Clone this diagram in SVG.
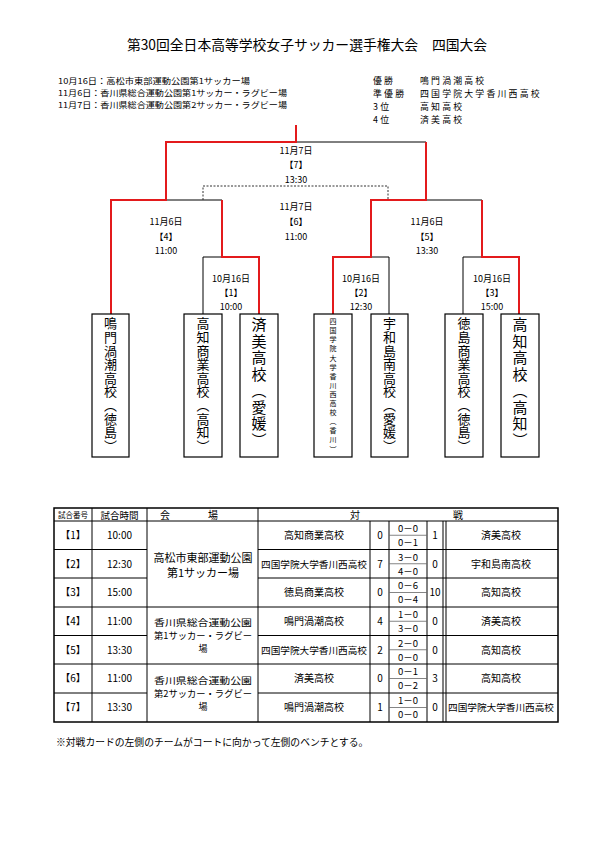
<svg xmlns="http://www.w3.org/2000/svg" width="595" height="841" viewBox="0 0 595 841">
<style>
text{font-family:"Noto Sans CJK JP","Noto Sans",sans-serif;fill:#000}
.t9{font-size:9px;text-anchor:middle}
.hd{font-size:8.2px}
.rt{font-size:8.9px;letter-spacing:2.2px}
.bk{stroke:#000;stroke-width:1;fill:none}
.rd{stroke:#e31a1c;stroke-width:2;fill:none}
.ds{stroke:#333;stroke-width:1;fill:none;stroke-dasharray:2 1.5}
.box{fill:#fff;stroke:#000;stroke-width:1.2}
.v{writing-mode:vertical-rl;text-orientation:upright}
.v13{font-size:13px;letter-spacing:0.6px}
.v15{font-size:15px;letter-spacing:1.5px}
.v7{font-size:7px;letter-spacing:2.1px}
.tc{font-size:10px;text-anchor:middle}
.ts{font-size:9.5px;text-anchor:middle}
.vn{font-size:9px;text-anchor:middle}
.tl{stroke:#000;stroke-width:1;fill:none}
.tg{stroke:#666;stroke-width:0.8;fill:none}
</style>
<rect width="595" height="841" fill="#fff"/>
<g id="header">
<text x="307" y="50" style="font-size:13.8px;text-anchor:middle">第30回全日本高等学校女子サッカー選手権大会　四国大会</text>
<text class="hd" x="58" y="84" textLength="192" lengthAdjust="spacingAndGlyphs">10月16日：高松市東部運動公園第1サッカー場</text>
<text class="hd" x="58" y="96" textLength="229" lengthAdjust="spacingAndGlyphs">11月6日：香川県総合運動公園第1サッカー・ラグビー場</text>
<text class="hd" x="58" y="108" textLength="229" lengthAdjust="spacingAndGlyphs">11月7日：香川県総合運動公園第2サッカー・ラグビー場</text>
<text class="rt" x="373" y="84">優勝</text><text class="rt" x="420" y="84">鳴門渦潮高校</text>
<text class="rt" x="373" y="97">準優勝</text><text class="rt" x="420" y="97">四国学院大学香川西高校</text>
<text class="rt" x="373" y="110">3位</text><text class="rt" x="420" y="110">高知高校</text>
<text class="rt" x="373" y="123">4位</text><text class="rt" x="420" y="123">済美高校</text>
</g>
<g id="connectors">
<path class="bk" d="M296 142H426 M166 200H222 M426 200H482 M203 257H222 M203 257V314 M371 257H389V314 M463 257H482 M463 257V314"/>
<path class="ds" d="M203 200V186H388V200"/>
<path class="rd" d="M296 125V142H166V200H111V314"/>
<path class="rd" d="M222 200V257H259V314"/>
<path class="rd" d="M426 142V200H371V257H333V314"/>
<path class="rd" d="M482 200V257H519V314"/>
</g>
<g id="match-labels">
<text class="t9" x="296" y="154">11月7日</text><text class="t9" x="296" y="168">【7】</text><text class="t9" x="296" y="183">13:30</text>
<text class="t9" x="296" y="210">11月7日</text><text class="t9" x="296" y="225">【6】</text><text class="t9" x="296" y="240">11:00</text>
<text class="t9" x="166" y="225">11月6日</text><text class="t9" x="166" y="240">【4】</text><text class="t9" x="166" y="254">11:00</text>
<text class="t9" x="427" y="225">11月6日</text><text class="t9" x="427" y="240">【5】</text><text class="t9" x="427" y="254">13:30</text>
<text class="t9" x="231" y="282">10月16日</text><text class="t9" x="231" y="296">【1】</text><text class="t9" x="231" y="310">10:00</text>
<text class="t9" x="361" y="282">10月16日</text><text class="t9" x="361" y="296">【2】</text><text class="t9" x="361" y="310">12:30</text>
<text class="t9" x="492" y="282">10月16日</text><text class="t9" x="492" y="296">【3】</text><text class="t9" x="492" y="310">15:00</text>
</g>
<g id="team-naruto"><rect class="box" x="92" y="314" width="37" height="143"/><text class="v v13" x="110.5" y="317">鳴門渦潮高校︵徳島︶</text></g>
<g id="team-kochisho"><rect class="box" x="184" y="314" width="38" height="143"/><text class="v v13" x="203" y="317">高知商業高校︵高知︶</text></g>
<g id="team-saibi"><rect class="box" x="240" y="314" width="38" height="143"/><text class="v v15" x="259" y="317">済美高校︵愛媛︶</text></g>
<g id="team-shikoku"><rect class="box" x="314" y="314" width="38" height="143"/><text class="v v7" x="333" y="318">四国学院大学香川西高校︵香川︶</text></g>
<g id="team-uwajima"><rect class="box" x="371" y="314" width="37" height="143"/><text class="v v13" x="389.5" y="317">宇和島南高校︵愛媛︶</text></g>
<g id="team-tokushimasho"><rect class="box" x="445" y="314" width="38" height="143"/><text class="v v13" x="464" y="317">徳島商業高校︵徳島︶</text></g>
<g id="team-kochi"><rect class="box" x="501" y="314" width="38" height="143"/><text class="v v15" x="520" y="317">高知高校︵高知︶</text></g>
<g id="table">
<rect x="54" y="508" width="504" height="214" fill="none" stroke="#000" stroke-width="1.5"/>
<path class="tl" d="M54 521H558 M54 607H558 M54 664H558 M54 549.5H147 M54 578H147 M54 635.5H147 M54 693H147 M258 549.5H558 M258 578H558 M258 635.5H558 M258 693H558"/>
<path class="tl" d="M92 508V722 M147 508V722 M258 508V722 M370 521V722 M389 521V722 M427 521V722 M443 521V722 M446 521V722"/>
<path class="tg" d="M389 535.25H427 M389 563.75H427 M389 592.5H427 M389 621.25H427 M389 649.75H427 M389 678.5H427 M389 707.5H427"/>
<text x="73" y="518" style="font-size:7.5px;text-anchor:middle">試合番号</text>
<text x="119.5" y="518.5" style="font-size:9.5px;text-anchor:middle">試合時間</text>
<text x="165" y="518.5" class="tc">会</text><text x="213" y="518.5" class="tc">場</text>
<text x="355" y="518.5" class="tc">対</text><text x="458" y="518.5" class="tc">戦</text>
<g id="numbers">
<text class="tc" x="73" y="539">【1】</text><text class="tc" x="119.5" y="539">10:00</text>
<text class="tc" x="73" y="567.5">【2】</text><text class="tc" x="119.5" y="567.5">12:30</text>
<text class="tc" x="73" y="596">【3】</text><text class="tc" x="119.5" y="596">15:00</text>
<text class="tc" x="73" y="625">【4】</text><text class="tc" x="119.5" y="625">11:00</text>
<text class="tc" x="73" y="653.5">【5】</text><text class="tc" x="119.5" y="653.5">13:30</text>
<text class="tc" x="73" y="682">【6】</text><text class="tc" x="119.5" y="682">11:00</text>
<text class="tc" x="73" y="711">【7】</text><text class="tc" x="119.5" y="711">13:30</text>
</g>
<g id="venues">
<text class="vn" x="203" y="562" style="font-size:11px">高松市東部運動公園</text>
<text class="vn" x="203" y="577" style="font-size:11px">第1サッカー場</text>
<text class="vn" x="203" y="626" textLength="98" lengthAdjust="spacingAndGlyphs">香川県総合運動公園</text>
<text class="vn" x="203" y="639" textLength="98" lengthAdjust="spacingAndGlyphs">第1サッカー・ラグビー</text>
<text class="vn" x="203" y="652">場</text>
<text class="vn" x="203" y="683.5" textLength="98" lengthAdjust="spacingAndGlyphs">香川県総合運動公園</text>
<text class="vn" x="203" y="696.5" textLength="98" lengthAdjust="spacingAndGlyphs">第2サッカー・ラグビー</text>
<text class="vn" x="203" y="709.5">場</text>
</g>
<g id="results">
<text class="tc" x="314" y="539">高知商業高校</text><text class="tc" x="380" y="539">0</text><text class="ts" x="408" y="532">0－0</text><text class="ts" x="408" y="546">0－1</text><text class="tc" x="435" y="539">1</text><text class="tc" x="501" y="539">済美高校</text>
<text x="314" y="567.5" style="font-size:9.5px;text-anchor:middle" textLength="106" lengthAdjust="spacingAndGlyphs">四国学院大学香川西高校</text><text class="tc" x="380" y="567.5">7</text><text class="ts" x="408" y="560.5">3－0</text><text class="ts" x="408" y="574.5">4－0</text><text class="tc" x="435" y="567.5">0</text><text class="tc" x="501" y="567.5">宇和島南高校</text>
<text class="tc" x="314" y="596">徳島商業高校</text><text class="tc" x="380" y="596">0</text><text class="ts" x="408" y="589">0－6</text><text class="ts" x="408" y="603">0－4</text><text class="tc" x="435" y="596">10</text><text class="tc" x="501" y="596">高知高校</text>
<text class="tc" x="314" y="625">鳴門渦潮高校</text><text class="tc" x="380" y="625">4</text><text class="ts" x="408" y="618">1－0</text><text class="ts" x="408" y="632">3－0</text><text class="tc" x="435" y="625">0</text><text class="tc" x="501" y="625">済美高校</text>
<text x="314" y="653.5" style="font-size:9.5px;text-anchor:middle" textLength="106" lengthAdjust="spacingAndGlyphs">四国学院大学香川西高校</text><text class="tc" x="380" y="653.5">2</text><text class="ts" x="408" y="646.5">2－0</text><text class="ts" x="408" y="660.5">0－0</text><text class="tc" x="435" y="653.5">0</text><text class="tc" x="501" y="653.5">高知高校</text>
<text class="tc" x="314" y="682">済美高校</text><text class="tc" x="380" y="682">0</text><text class="ts" x="408" y="675">0－1</text><text class="ts" x="408" y="689">0－2</text><text class="tc" x="435" y="682">3</text><text class="tc" x="501" y="682">高知高校</text>
<text class="tc" x="314" y="711">鳴門渦潮高校</text><text class="tc" x="380" y="711">1</text><text class="ts" x="408" y="704">1－0</text><text class="ts" x="408" y="718">0－0</text><text class="tc" x="435" y="711">0</text><text x="501" y="711" style="font-size:9.5px;text-anchor:middle" textLength="106" lengthAdjust="spacingAndGlyphs">四国学院大学香川西高校</text>
</g>
</g>
<g id="footnote">
<text x="56" y="746" style="font-size:9.8px">※対戦カードの左側のチームがコートに向かって左側のベンチとする。</text>
</g>
</svg>
